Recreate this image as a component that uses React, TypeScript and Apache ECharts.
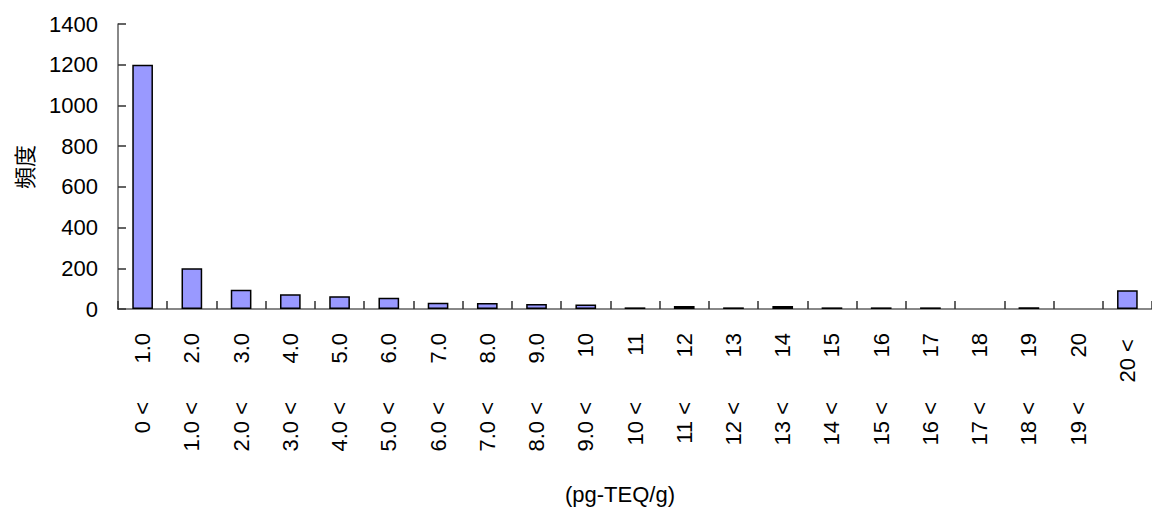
import React, { useEffect, useRef } from "react";
import * as echarts from "echarts";

const upperLabels = ["1.0", "2.0", "3.0", "4.0", "5.0", "6.0", "7.0", "8.0", "9.0", "10", "11", "12", "13", "14", "15", "16", "17", "18", "19", "20", "20 < "];
const lowerLabels = ["0 <", "1.0 <", "2.0 <", "3.0 <", "4.0 <", "5.0 <", "6.0 <", "7.0 <", "8.0 <", "9.0 <", "10 <", "11 <", "12 <", "13 <", "14 <", "15 <", "16 <", "17 <", "18 <", "19 <", ""];
const frequency = [1200, 200, 95, 72, 63, 55, 31, 30, 24, 22, 8, 15, 8, 15, 8, 8, 8, 0, 8, 0, 92];
const yTicks = { min: 0, max: 1400, interval: 200 };
const yName = "頻度";
const xName = "(pg-TEQ/g)";

const FONT = "'Liberation Sans', Arial, sans-serif";
const FS = 22;

export default function App() {
  const ref = useRef<HTMLDivElement>(null);
  useEffect(() => {
    document.body.style.margin = "0";
    const chart = echarts.init(ref.current!, undefined, { renderer: "svg" });
    chart.setOption({
      animation: false,
      backgroundColor: "#ffffff",
      textStyle: { fontFamily: FONT },
      grid: { left: 118, top: 24, width: 1042, bottom: 203 },
      xAxis: [
        {
          type: "category",
          data: upperLabels,
          boundaryGap: true,
          axisLine: { show: true, lineStyle: { color: "#606060", width: 1.5 } },
          axisTick: { show: true, inside: true, length: 8, lineStyle: { color: "#303030", width: 1.5 } },
          axisLabel: { rotate: 90, margin: 24, fontSize: FS, color: "#000", fontFamily: FONT, interval: 0 },
          splitLine: { show: false },
        },
        {
          type: "category",
          data: lowerLabels,
          position: "bottom",
          boundaryGap: true,
          axisLine: { show: false },
          axisTick: { show: false },
          axisLabel: { rotate: 90, margin: 93, fontSize: FS, color: "#000", fontFamily: FONT, interval: 0 },
          splitLine: { show: false },
        },
      ],
      yAxis: {
        type: "value",
        min: yTicks.min,
        max: yTicks.max,
        interval: yTicks.interval,
        axisLine: { show: true, lineStyle: { color: "#606060", width: 1.5 } },
        axisTick: { show: true, inside: true, length: 8, lineStyle: { color: "#303030", width: 1.5 } },
        axisLabel: { margin: 20, fontSize: FS, color: "#000", fontFamily: FONT, formatter: (v: number) => String(v) },
        splitLine: { show: false },
      },
      series: [
        {
          type: "bar",
          data: frequency.map((v) => (v === 0 ? "-" : v)),
          barWidth: "42%",
          itemStyle: { color: "#9999FF", borderColor: "#000", borderWidth: 1.5 },
        },
      ],
      graphic: [
        {
          type: "text",
          x: 23,
          y: 167,
          rotation: Math.PI / 2,
          style: { text: yName, fontSize: FS, fill: "#000", align: "center", verticalAlign: "middle", fontFamily: "'Noto Sans CJK JP', sans-serif" },
        },
        {
          type: "text",
          x: 620,
          y: 494,
          style: { text: xName, fontSize: FS, fill: "#000", align: "center", verticalAlign: "middle", fontFamily: FONT },
        },
      ],
    });
    return () => chart.dispose();
  }, []);
  return <div ref={ref} style={{ width: 1152, height: 512, position: "absolute", left: 0, top: 0 }} />;
}
